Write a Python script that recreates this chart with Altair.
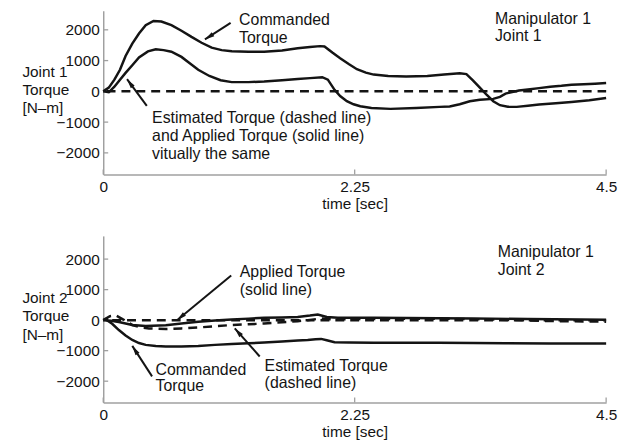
import math
import altair as alt
import pandas as pd

FONT = "Liberation Sans"
INK = "#141414"
AXIS_GRAY = "#a0a0a0"
FS = 15.5
FS_ANN = 16
W = 507
H_TOP, H_BOT = 165, 168
X_DOMAIN = [0, 4.5]
Y_DOMAIN_TOP = [-2700, 2620]
Y_DOMAIN_BOT = [-2700, 2760]
X_TICKS = [0, 2.25, 4.5]
Y_TICKS = [-2000, -1000, 0, 1000, 2000]

# ---------------- Joint 1 (top panel) ----------------
j1_cmd_t = [0, 0.05, 0.1, 0.15, 0.2, 0.26, 0.32, 0.38, 0.45, 0.52, 0.61, 0.7, 0.79, 0.88,
            0.97, 1.06, 1.15, 1.3, 1.44, 1.6, 1.74, 1.85, 1.94, 1.98, 2.05, 2.12, 2.2, 2.27,
            2.35, 2.42, 2.55, 2.71, 2.9, 3.05, 3.19, 3.25, 3.31, 3.37, 3.43, 3.49, 3.55, 3.62,
            3.7, 3.8, 3.9, 4.05, 4.19, 4.35, 4.5]
j1_cmd_v = [0, 120, 380, 700, 1150, 1550, 1880, 2150, 2290, 2270, 2150, 1970, 1770, 1580,
            1420, 1340, 1300, 1285, 1290, 1330, 1400, 1440, 1470, 1460, 1260, 1075, 880, 720,
            610, 545, 500, 480, 500, 550, 585, 560, 350, 120, -110, -320, -450, -500,
            -505, -470, -430, -390, -345, -290, -215]

j1_app_t = [0, 0.05, 0.1, 0.15, 0.2, 0.26, 0.32, 0.4, 0.47, 0.54, 0.61, 0.7, 0.78, 0.85,
            0.95, 1.05, 1.15, 1.3, 1.44, 1.6, 1.74, 1.85, 1.96, 2.01, 2.07, 2.12, 2.18, 2.24,
            2.3, 2.4, 2.57, 2.8, 3.01, 3.1, 3.19, 3.28, 3.37, 3.49, 3.55, 3.6, 3.72, 3.8, 3.9,
            4.0, 4.1, 4.19, 4.3, 4.4, 4.5]
j1_app_v = [0, -30, 150, 380, 600, 850, 1100, 1300, 1365, 1340, 1290, 1120, 900, 700,
            500, 360, 300, 300, 320, 360, 400, 430, 460, 380, 50, -150, -320, -420,
            -485, -540, -570, -540, -505, -490, -420, -320, -270, -245, -180, -75, 30, 60, 105,
            150, 180, 215, 230, 250, 270]

j1_est_t = [0.03, 4.5]
j1_est_v = [0, 0]

j1_ann_label = ["Commanded", "Torque", "Manipulator 1", "Joint 1",
                "Estimated Torque (dashed line)", "and Applied Torque (solid line)",
                "vitually the same"]
j1_ann_t = [1.216, 1.216, 3.505, 3.505, 0.437, 0.437, 0.437]
j1_ann_v = [2310, 1720, 2365, 1785, -860, -1450, -2045]

j1_arr_t0 = [1.14, 0.39]
j1_arr_v0 = [2226, -474]
j1_arr_t1 = [0.91, 0.213]
j1_arr_v1 = [1687, 397]

# ---------------- Joint 2 (bottom panel) ----------------
j2_cmd_t = [0, 0.02, 0.08, 0.14, 0.2, 0.26, 0.32, 0.38, 0.47, 0.56, 0.7, 0.85, 1.0, 1.15,
            1.3, 1.44, 1.6, 1.74, 1.83, 1.9, 1.95, 2.0, 2.07, 2.2, 2.42, 3.0, 3.31, 3.6, 4.0, 4.5]
j2_cmd_v = [0, 30, -120, -325, -500, -650, -750, -810, -850, -865, -860, -845, -810, -780,
            -755, -735, -700, -670, -650, -625, -615, -660, -725, -735, -740, -740, -745,
            -760, -765, -765]

j2_app_t = [0, 0.07, 0.14, 0.26, 0.38, 0.56, 0.7, 0.85, 1.0, 1.15, 1.3, 1.44, 1.6, 1.74,
            1.85, 1.92, 2.0, 2.1, 2.42, 3.0, 3.31, 3.8, 4.5]
j2_app_v = [0, -20, -60, -160, -195, -165, -110, -55, -10, 20, 50, 75, 90, 105,
            150, 185, 105, 80, 75, 65, 55, 35, 15]

j2_est_t = [0, 0.06, 0.11, 0.18, 0.26, 0.34, 0.41, 0.56, 0.7, 0.85, 1.0, 1.15, 1.3, 1.44,
            1.6, 1.74, 1.83, 1.95, 2.05, 2.5, 3.0, 3.5, 4.0, 4.5]
j2_est_v = [0, 130, 160, 20, -160, -240, -270, -290, -270, -240, -200, -160, -135, -110,
            -70, -35, 0, 55, 25, 40, 50, 20, -30, -50]

j2_zero_t = [0.08, 4.5]
j2_zero_v = [0, 0]

j2_ann_label = ["Applied Torque", "(solid line)", "Estimated Torque", "(dashed line)",
                "Commanded", "Torque", "Manipulator 1", "Joint 2"]
j2_ann_t = [1.222, 1.222, 1.444, 1.444, 0.468, 0.468, 3.53, 3.53]
j2_ann_v = [1568, 974, -1516, -2045, -1623, -2166, 2218, 1646]

j2_arr_t0 = [1.145, 1.40, 0.437]
j2_arr_v0 = [1461, -1192, -1841]
j2_arr_t1 = [0.66, 1.177, 0.26]
j2_arr_v1 = [0, -270, -844]

ARROW_HEAD = "M0,0L0.42,1.7L-0.42,1.7Z"


def panel(series, ann, arrows, ydom, h, ylabel, title_y):
    xs = alt.Scale(domain=X_DOMAIN, nice=False, zero=False)
    ys = alt.Scale(domain=ydom, nice=False, zero=False)
    X = alt.X("t:Q", scale=xs,
              axis=alt.Axis(values=X_TICKS, title="time [sec]", format=".3~g",
                            ticks=False, tickSize=0, grid=False, labelFlush=False,
                            labelOverlap=False, labelPadding=5, titlePadding=2))
    Y = alt.Y("v:Q", scale=ys,
              axis=alt.Axis(values=Y_TICKS, title=ylabel, format="d",
                            ticks=False, tickSize=0, grid=False, labelPadding=4,
                            titleAngle=0, titleAlign="left", titleBaseline="middle",
                            titleX=-82, titleY=title_y, titleLineHeight=18.5))
    layers = []
    # inward tick marks
    layers.append(alt.Chart(pd.DataFrame({"v": Y_TICKS})).mark_rule(
        color=AXIS_GRAY, strokeWidth=1.3).encode(y=Y, x=alt.value(0), x2=alt.value(5)))
    layers.append(alt.Chart(pd.DataFrame({"t": X_TICKS})).mark_rule(
        color=AXIS_GRAY, strokeWidth=1.3).encode(x=X, y=alt.value(h), y2=alt.value(h - 5)))
    for t, v, dashed in series:
        kw = dict(color=INK, strokeWidth=2.5)
        if dashed:
            kw["strokeDash"] = [9, 6]
        layers.append(alt.Chart(pd.DataFrame({"t": t, "v": v})).mark_line(**kw)
                      .encode(x=X, y=Y))
    lab, at, av = ann
    layers.append(alt.Chart(pd.DataFrame({"t": at, "v": av, "label": lab})).mark_text(
        align="left", baseline="middle", font=FONT, fontSize=FS_ANN, color=INK)
        .encode(x=X, y=Y, text="label:N"))
    t0, v0, t1, v1 = arrows
    sx = W / (X_DOMAIN[1] - X_DOMAIN[0])
    sy = h / (ydom[1] - ydom[0])
    angs = []
    for a, b, c, d in zip(t0, v0, t1, v1):
        dx = (c - a) * sx
        dy = -(d - b) * sy
        angs.append(math.degrees(math.atan2(dx, -dy)) % 360)
    adf = pd.DataFrame({"t": t0, "v": v0, "t2": t1, "v2": v1, "ang": angs})
    layers.append(alt.Chart(adf).mark_rule(color=INK, strokeWidth=2)
                  .encode(x=X, y=Y, x2="t2:Q", y2="v2:Q"))
    hdf = pd.DataFrame({"t": t1, "v": v1, "ang": angs})
    layers.append(alt.Chart(hdf).mark_point(shape=ARROW_HEAD, filled=True, size=130,
                                            color=INK, opacity=1, strokeWidth=0)
                  .encode(x=X, y=Y, angle=alt.Angle("ang:Q", scale=None)))
    return alt.layer(*layers).properties(width=W, height=h)


top = panel(
    [(j1_est_t, j1_est_v, True), (j1_cmd_t, j1_cmd_v, False), (j1_app_t, j1_app_v, False)],
    (j1_ann_label, j1_ann_t, j1_ann_v),
    (j1_arr_t0, j1_arr_v0, j1_arr_t1, j1_arr_v1),
    Y_DOMAIN_TOP, H_TOP, ["Joint 1", "Torque", "[N–m]"], 61)

bottom = panel(
    [(j2_zero_t, j2_zero_v, True), (j2_est_t, j2_est_v, True),
     (j2_cmd_t, j2_cmd_v, False), (j2_app_t, j2_app_v, False)],
    (j2_ann_label, j2_ann_t, j2_ann_v),
    (j2_arr_t0, j2_arr_v0, j2_arr_t1, j2_arr_v1),
    Y_DOMAIN_BOT, H_BOT, ["Joint 2", "Torque", "[N–m]"], 62)

chart = alt.vconcat(top, bottom, spacing=24).properties(
    padding={"left": 14, "top": 0, "right": 5, "bottom": 0},
    background="white"
).configure_view(strokeWidth=0).configure_axis(
    labelFont=FONT, labelFontSize=FS, labelColor=INK,
    titleFont=FONT, titleFontSize=FS, titleColor=INK, titleFontWeight="normal",
    domainColor=AXIS_GRAY, domainWidth=1.5, grid=False
)

chart.save("out.html", embed_options={"renderer": "svg", "actions": False})
